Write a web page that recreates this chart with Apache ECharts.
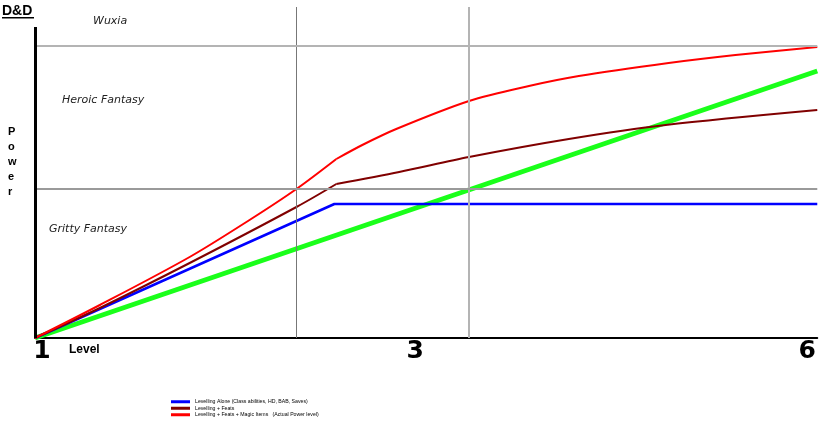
<!DOCTYPE html>
<html><head><meta charset="utf-8">
<script src="https://cdn.jsdelivr.net/npm/echarts@6/dist/echarts.min.js"></script>
<style>html,body{margin:0;padding:0;background:#fff}#c{width:819px;height:423px}</style>
</head><body><div id="c"></div>
<script>
// x: progression units (0..784), y: power units (0..331)
const seriesNames = [
  'Levelling Alone (Class abilities, HD, BAB, Saves)',
  'Levelling + Feats',
  'Levelling + Feats + Magic Items   (Actual Power level)'
];
const levelTickPos = [7, 381, 774];
const levelTickLabels = ['1', '3', '6'];
const bandLines = [292, 149];          // Wuxia / Heroic / Gritty boundaries
const phaseLines = [262, 435];
const blueData = [[0,0],[300,134],[784,134]];
const maroonEarly = [[0,0],[65,30],[155,75],[262,131],[302,154]];
const maroonLate = [[302,154],[365,166],[435,181],[535,199],[632,213],[784,228]];
const redEarly = [[0,0],[65,33],[155,81],[215,118],[262,149],[302,179]];
const redLate = [[302,179],[328,193],[362,209],[435,237],[495,252],[545,262],[635,275],[702,283],[784,291]];
const greenData = [[0,0],[784,267]];

const chart = echarts.init(document.getElementById('c'), null, {renderer:'canvas'});
const italic = {fontFamily:'DejaVu Sans', fontStyle:'italic', fontSize:11, fill:'#222'};
const ln = (name, data, color, width, z) => ({type:'line', name, data, symbol:'none', z, color,
  smooth:0.3, lineStyle:{color, width}});
chart.setOption({
  animation:false,
  grid:{left:35, right:0, top:7, bottom:85},
  xAxis:{type:'value', min:0, max:784, splitLine:{show:false},
    axisLine:{show:true, lineStyle:{color:'#000', width:2}},
    axisTick:{show:false},
    axisLabel:{customValues:levelTickPos, formatter:(v)=>levelTickLabels[levelTickPos.indexOf(v)] ?? '',
      fontFamily:'DejaVu Sans', fontWeight:'bold', fontSize:25, color:'#000', margin:2, lineHeight:22}},
  yAxis:{type:'value', min:0, max:331, axisLine:{show:false}, axisTick:{show:false}, axisLabel:{show:false}, splitLine:{show:false}},
  legend:{orient:'vertical', left:171, top:399, padding:0, itemGap:1, itemWidth:19, itemHeight:3,
    data:seriesNames.map(n=>({name:n, icon:'rect'})),
    textStyle:{fontFamily:'Liberation Sans', fontSize:5.2, lineHeight:5.5, color:'#000'}},
  series:[
    {type:'line', name:'refs', data:[], z:1, silent:true,
      markLine:{silent:true, symbol:'none', label:{show:false},
        data:[
          {xAxis:phaseLines[0], lineStyle:{color:'#777', width:1, type:'solid'}},
          {xAxis:phaseLines[1], lineStyle:{color:'#b4b4b4', width:2, type:'solid'}},
          {yAxis:bandLines[0], lineStyle:{color:'#b4b4b4', width:2, type:'solid'}},
          {yAxis:bandLines[1], lineStyle:{color:'#9a9a9a', width:2, type:'solid'}},
          [{coord:[0,0], lineStyle:{color:'#000', width:3, type:'solid'}},{coord:[0,311]}]
        ]}},
    {type:'line', name:'Progression', data:greenData, symbol:'none', z:2, lineStyle:{color:'#1aff1a', width:5}},
    {type:'line', name:seriesNames[0], data:blueData, symbol:'none', z:3, color:'#0000ff', lineStyle:{color:'#0000ff', width:2.5}},
    ln(seriesNames[1], maroonEarly, '#800000', 2, 3),
    ln(seriesNames[1], maroonLate, '#800000', 2, 3),
    ln(seriesNames[2], redEarly, '#ff0000', 2, 3),
    ln(seriesNames[2], redLate, '#ff0000', 2, 3)
  ],
  graphic:[
    {type:'text', left:2, top:4, style:{text:'D&D', fontFamily:'Liberation Sans', fontWeight:'bold', fontSize:14, fill:'#000'}},
    {type:'rect', left:2, top:17, shape:{width:32, height:1.5}, style:{fill:'#000'}},
    {type:'text', left:93, top:16, style:Object.assign({text:'Wuxia'}, italic)},
    {type:'text', left:62, top:95, style:Object.assign({text:'Heroic Fantasy'}, italic)},
    {type:'text', left:49, top:224, style:Object.assign({text:'Gritty Fantasy'}, italic)},
    {type:'text', left:8, top:124, style:{text:'P\no\nw\ne\nr', fontFamily:'Liberation Sans', fontWeight:'bold', fontSize:11, lineHeight:15, align:'center', fill:'#000'}},
    {type:'text', left:69, top:344, style:{text:'Level', fontFamily:'Liberation Sans', fontWeight:'bold', fontSize:12, fill:'#000'}}
  ]
});
</script></body></html>
